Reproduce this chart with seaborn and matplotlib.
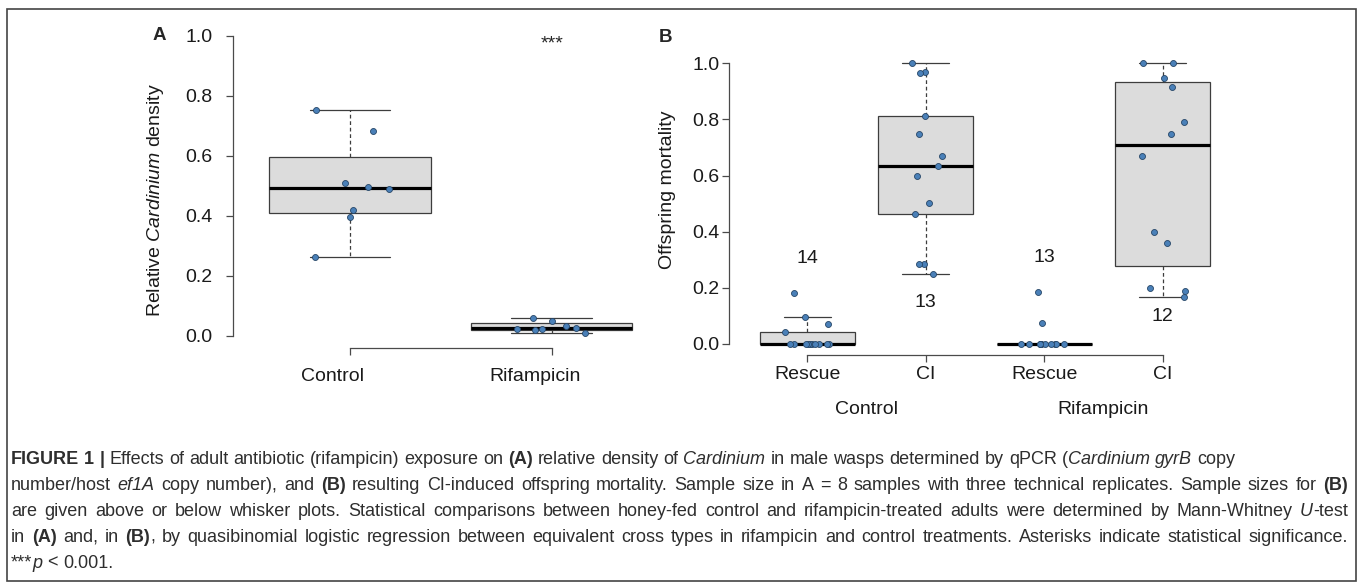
"""Figure 1: Cardinium density (A) and CI offspring mortality (B) after rifampicin."""
import numpy as np
import pandas as pd
import matplotlib
matplotlib.use("Agg")
import matplotlib.pyplot as plt
import matplotlib.transforms as mtransforms
from matplotlib.patches import Rectangle
import seaborn as sns

# ---- data ----
A_GROUPS = ["Control", "Rifampicin"]
ctrl_density = [0.755, 0.685, 0.510, 0.497, 0.490, 0.420, 0.397, 0.262]
rif_density = [0.061, 0.050, 0.034, 0.028, 0.024, 0.022, 0.020, 0.011]

B_GROUPS = ["Control Rescue", "Control CI", "Rifampicin Rescue", "Rifampicin CI"]
B_TICKS = ["Rescue", "CI", "Rescue", "CI"]
B_TREAT = ["Control", "Rifampicin"]
ctrl_rescue = [0.180, 0.097, 0.070, 0.044, 0.0, 0.0, 0.0, 0.0, 0.0, 0.0, 0.0, 0.0, 0.0, 0.0]
ctrl_ci = [1.0, 0.968, 0.964, 0.812, 0.749, 0.670, 0.635, 0.600, 0.501, 0.462, 0.286, 0.286, 0.249]
rif_rescue = [0.186, 0.076, 0.0, 0.0, 0.0, 0.0, 0.0, 0.0, 0.0, 0.0, 0.0, 0.0, 0.0]
rif_ci = [1.0, 1.0, 0.947, 0.917, 0.792, 0.749, 0.670, 0.400, 0.359, 0.200, 0.190, 0.166]
B_N = ["14", "13", "13", "12"]
B_N_Y = [0.306, 0.147, 0.307, 0.097]

W, H = 1357, 585
BOX_FILL = "#dcdcdc"
EDGE = "#3d3d3d"
DOT = "#4a80b8"
DOT_EDGE = "#254566"

sns.set_style("ticks")
plt.rcParams["font.family"] = ["Liberation Sans", "DejaVu Sans"]
plt.rcParams["mathtext.fontset"] = "custom"
plt.rcParams["mathtext.rm"] = "Liberation Sans"
plt.rcParams["mathtext.it"] = "Liberation Sans:italic"
np.random.seed(7)


def fivenum(v):
    # Tukey hinges, as R's boxplot computes them
    x = np.sort(np.asarray(v, dtype=float))
    n = len(x)
    n4 = np.floor((n + 3) / 2) / 2
    d = np.array([1, n4, (n + 1) / 2, n + 1 - n4, n]) - 1
    return 0.5 * (x[np.floor(d).astype(int)] + x[np.ceil(d).astype(int)])


def box_stats(v):
    x = np.asarray(v, dtype=float)
    _, q1, med, q3, _ = fivenum(x)
    iqr = q3 - q1
    return dict(med=med, q1=q1, q3=q3,
                whislo=x[x >= q1 - 1.5 * iqr].min(),
                whishi=x[x <= q3 + 1.5 * iqr].max(), fliers=[])


def draw_panel(ax, groups, values):
    df = pd.DataFrame({"group": np.repeat(groups, [len(v) for v in values]),
                       "value": np.concatenate(values)})
    ax.bxp([box_stats(v) for v in values], positions=range(len(groups)), widths=0.8,
           capwidths=0.4, patch_artist=True, showfliers=False, manage_ticks=False,
           boxprops=dict(facecolor=BOX_FILL, edgecolor=EDGE, linewidth=0.9),
           medianprops=dict(color="black", linewidth=2.3),
           whiskerprops=dict(color=EDGE, linewidth=0.9, linestyle=(0, (3, 2.2))),
           capprops=dict(color=EDGE, linewidth=0.9))
    sns.stripplot(data=df, x="group", y="value", order=groups, jitter=0.2, size=4.3,
                  color=DOT, edgecolor=DOT_EDGE, linewidth=0.6, zorder=4, ax=ax)
    n = len(groups)
    pad = 0.04 * n
    ax.set_xlim(-0.5 - pad, n - 0.5 + pad)
    ax.set_ylim(-0.04, 1.04)
    ax.set_yticks([0, 0.2, 0.4, 0.6, 0.8, 1.0])
    ax.set_yticklabels(["0.0", "0.2", "0.4", "0.6", "0.8", "1.0"])
    ax.set_xticks(range(n))
    ax.set_xlabel("")
    ax.set_ylabel("")
    for s in ["top", "right"]:
        ax.spines[s].set_visible(False)
    ax.spines["left"].set_bounds(0, 1)
    ax.spines["bottom"].set_bounds(0, n - 1)
    for s in ["left", "bottom"]:
        ax.spines[s].set_color("#4a4a4a")
        ax.spines[s].set_linewidth(0.9)
    ax.tick_params(length=5, width=0.9, color="#4a4a4a", labelsize=14, labelcolor="#1a1a1a")
    ax.patch.set_alpha(0)


def fx(px):
    return px / W


def fy(py):
    return 1 - py / H


fig = plt.figure(figsize=(W / 100, H / 100), dpi=100)

# ---- panel A ----
axA = fig.add_axes([fx(233), fy(348), fx(668.6 - 233), (348 - 24) / H])
draw_panel(axA, A_GROUPS, [ctrl_density, rif_density])
axA.set_xticklabels(A_GROUPS)
axA.tick_params(axis="y", pad=9.5)
axA.tick_params(axis="x", pad=9.5)
shift = mtransforms.ScaledTranslation(-0.17, 0, fig.dpi_scale_trans)
for lbl in axA.get_xticklabels():
    lbl.set_transform(lbl.get_transform() + shift)
fig.text(fx(155), fy(200), r"Relative $\it{Cardinium}$ density", rotation=90,
         ha="center", va="center", fontsize=14, color="#1a1a1a")
axA.text(1, 0.96, "***", ha="center", va="baseline", fontsize=14)
fig.text(fx(159), fy(36), "A", ha="center", va="center", fontsize=13.5, fontweight="bold")

# ---- panel B ----
axB = fig.add_axes([fx(729), fy(355.2), fx(1241 - 729), (355.2 - 52.1) / H])
draw_panel(axB, B_GROUPS, [ctrl_rescue, ctrl_ci, rif_rescue, rif_ci])
axB.set_xticklabels(B_TICKS)
axB.tick_params(axis="y", pad=2)
axB.tick_params(axis="x", pad=3)
for i, (lab, y) in enumerate(zip(B_N, B_N_Y)):
    axB.text(i, y, lab, ha="center", va="center", fontsize=14, color="#1a1a1a")
mix = mtransforms.blended_transform_factory(axB.transData, fig.transFigure)
for i, lab in enumerate(B_TREAT):
    axB.text(2 * i + 0.5, fy(409), lab, transform=mix, ha="center", va="center",
             fontsize=14, color="#1a1a1a")
fig.text(fx(665), fy(37), "B", ha="center", va="center", fontsize=13.5, fontweight="bold")
fig.text(fx(667), fy(190), "Offspring mortality", rotation=90, ha="center", va="center",
         fontsize=14, color="#1a1a1a")

# ---- caption (lines 2-4 justified like the journal layout) ----
CAPTION = [
    [("FIGURE 1 | ", "b"), ("Effects of adult antibiotic (rifampicin) exposure on ", ""),
     ("(A)", "b"), (" relative density of ", ""), ("Cardinium", "i"),
     (" in male wasps determined by qPCR (", ""), ("Cardinium gyrB", "i"), (" copy", "")],
    [("number/host ", ""), ("ef1A", "i"), (" copy number), and ", ""), ("(B)", "b"),
     (" resulting CI-induced offspring mortality. Sample size in A = 8 samples with three "
      "technical replicates. Sample sizes for ", ""), ("(B)", "b")],
    [("are given above or below whisker plots. Statistical comparisons between honey-fed "
      "control and rifampicin-treated adults were determined by Mann-Whitney ", ""),
     ("U", "i"), ("-test", "")],
    [("in ", ""), ("(A)", "b"), (" and, in ", ""), ("(B)", "b"),
     (", by quasibinomial logistic regression between equivalent cross types in rifampicin "
      "and control treatments. Asterisks indicate statistical significance.", "")],
    [("***", ""), ("p", "i"), (" < 0.001.", "")],
]
JUSTIFY = [False, True, True, True, False]
renderer = fig.canvas.get_renderer()
cap_size = 13.0
cap_left, cap_right = 11, 1348


def style_kw(style):
    return dict(fontsize=cap_size, fontweight="bold" if "b" in style else "normal",
                fontstyle="italic" if "i" in style else "normal")


def text_width(s, style):
    kw = style_kw(style)
    t1 = fig.text(0, 0, s + "|", **kw)
    t2 = fig.text(0, 0, "|", **kw)
    w = t1.get_window_extent(renderer).width - t2.get_window_extent(renderer).width
    t1.remove()
    t2.remove()
    return w


for k, line in enumerate(CAPTION):
    tokens = []
    gap = False
    for s, style in line:
        for j, part in enumerate(s.split(" ")):
            if j > 0:
                gap = True
            if part:
                tokens.append((part, style, gap))
                gap = False
    widths = [text_width(t, st) for t, st, _ in tokens]
    space = text_width(" ", "")
    n_gaps = sum(g for _, _, g in tokens)
    natural = sum(widths) + n_gaps * space
    if JUSTIFY[k] and n_gaps:
        space += (cap_right - cap_left - natural) / n_gaps
    x = cap_left
    y = 459 + 26 * k
    for (t, st, g), w in zip(tokens, widths):
        if g:
            x += space
        fig.text(fx(x), fy(y), t, va="center", ha="left", color="#2e2e2e", **style_kw(st))
        x += w

fig.add_artist(Rectangle((fx(7), fy(581)), fx(1355.5 - 7), (581 - 9) / H,
                         transform=fig.transFigure, fill=False, edgecolor="#444444",
                         linewidth=1.2))

fig.savefig("out.png", dpi=100)
